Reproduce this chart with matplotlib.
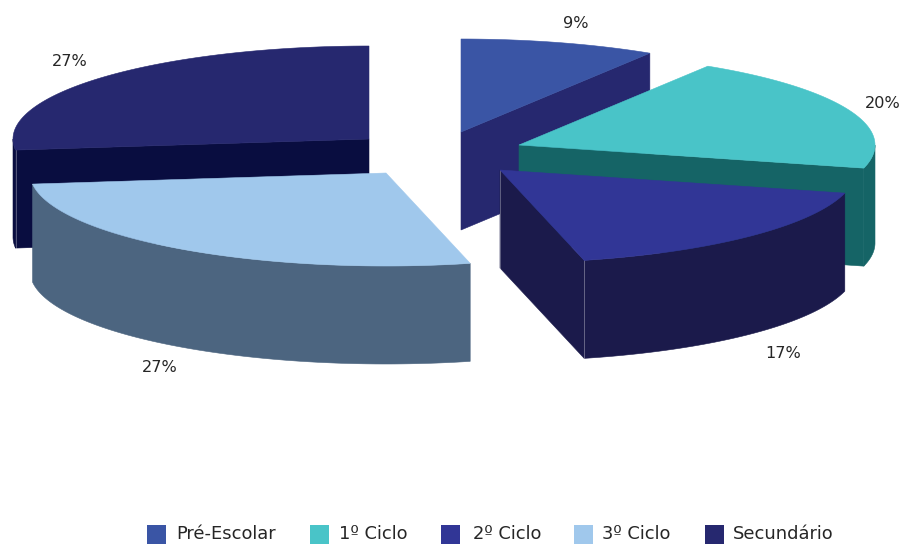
import numpy as np
import matplotlib
matplotlib.use("Agg")
import matplotlib.pyplot as plt
from matplotlib.patches import Polygon, Rectangle

categories = ["Pré-Escolar", "1º Ciclo", "2º Ciclo", "3º Ciclo", "Secundário"]
shares = [8.9, 20.1, 17.2, 26.9, 26.9]
share_labels = ["9%", "20%", "17%", "27%", "27%"]

top_colors = ["#3A55A5", "#49C4C8", "#313696", "#A0C8EC", "#26286F"]
side_colors = ["#26286F", "#156466", "#1B1A4B", "#4C6580", "#090D40"]
# exploded slice centres (pixels) and label anchors
centers = [(461, 132), (519, 145), (500, 170), (386, 173), (369, 139)]
label_pos = [(576, 23), (883, 103), (783, 353), (160, 367), (70, 62)]
legend_swatch_x = [147, 310, 441, 574, 705]
legend_text_x = [176, 339, 473, 602, 733]
highlight = [False, False, True, False, True]
RX, RY, DEPTH = 356, 93, 98

fig = plt.figure(figsize=(9.03, 5.44), dpi=100)
ax = fig.add_axes([0, 0, 1, 1])
ax.set_xlim(0, 903)
ax.set_ylim(544, 0)
ax.axis("off")

total = sum(shares)
starts = np.cumsum([0] + shares[:-1]) / total * 360
ends = np.cumsum(shares) / total * 360


def pt(c, par):
    r = np.radians(par)
    return np.column_stack([c[0] + RX * np.cos(r), c[1] - RY * np.sin(r)])


def draw_slice(i, z):
    c = centers[i]
    p0, p1 = 90 - starts[i], 90 - ends[i]   # clockwise parameter range
    top = np.vstack([[c], pt(c, np.linspace(p0, p1, 200))])
    mid_pt = pt(c, (p0 + p1) / 2)[0]
    # straight cut faces seen by the viewer
    for par in (p0, p1):
        e = pt(c, par)[0]
        d = e - np.array(c)
        n = np.array([-d[1], d[0]])
        if np.dot(n, mid_pt - np.array(c)) > 0:
            n = -n
        if n[1] > 1e-6:
            face = [c, e, e + [0, DEPTH], (c[0], c[1] + DEPTH)]
            ax.add_patch(Polygon(face, closed=True, fc=side_colors[i],
                                 ec=side_colors[i], lw=0.4, zorder=z))
            if highlight[i]:
                ax.plot([e[0], e[0]], [e[1], e[1] + DEPTH], color="white",
                        alpha=0.3, lw=0.7, zorder=z + 0.5)
                if c[0] < e[0]:
                    ax.plot([c[0], c[0]], [c[1], c[1] + DEPTH], color="white",
                            alpha=0.3, lw=0.7, zorder=z + 0.5)
    # outer rim wall, front half of the ellipse only
    pars = np.linspace(p0, p1, 400)
    vis = pars[np.sin(np.radians(pars)) <= 0]
    if len(vis) > 1:
        a = pt(c, vis)
        wall = np.vstack([a, (a + [0, DEPTH])[::-1]])
        ax.add_patch(Polygon(wall, closed=True, fc=side_colors[i],
                             ec=side_colors[i], lw=0.4, zorder=z))
    ax.add_patch(Polygon(top, closed=True, fc=top_colors[i],
                         ec=top_colors[i], lw=0.4, zorder=z + 0.6))


for z, i in enumerate([0, 4, 1, 2, 3]):
    draw_slice(i, z + 1)

font = "DejaVu Sans"
for (x, y), s in zip(label_pos, share_labels):
    ax.text(x, y, s, ha="center", va="center", fontsize=11.6,
            color="#262626", family=font, zorder=10)

for sx, tx, col, name in zip(legend_swatch_x, legend_text_x, top_colors, categories):
    ax.add_patch(Rectangle((sx, 525), 19, 19, fc=col, ec="none", zorder=10))
    ax.text(tx, 534, name, ha="left", va="center", fontsize=12.9,
            color="#262626", family=font, zorder=10)

fig.savefig("out.png", dpi=100)
